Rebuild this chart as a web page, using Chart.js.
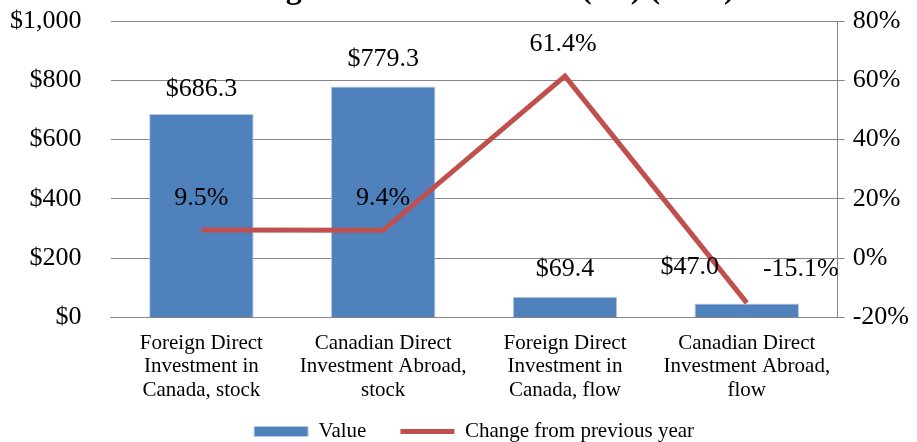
<!DOCTYPE html>
<html>
<head>
<meta charset="utf-8">
<script src="https://cdn.jsdelivr.net/npm/chart.js@4.4.1/dist/chart.umd.min.js"></script>
<style>
  html, body { margin: 0; padding: 0; background: #fff; }
  #wrap { width: 917px; height: 442px; }
</style>
</head>
<body>
<div id="wrap"><canvas id="fdiChart"></canvas></div>
<script>
const categories = [
    ['Foreign Direct', 'Investment in', 'Canada, stock'],
    ['Canadian Direct', 'Investment Abroad,', 'stock'],
    ['Foreign Direct', 'Investment in', 'Canada, flow'],
    ['Canadian Direct', 'Investment Abroad,', 'flow']
];
const values = [686.3, 779.3, 69.4, 47.0];
const changes = [9.5, 9.4, 61.4, -15.1];
const valueRange = [0, 1000, 200];
const changeRange = [-20, 80, 20];

const serif = '"Liberation Serif", "Times New Roman", serif';

// label nudges (dx, dy) from each bar top / line point
const labelShift = {
    0: [[0, -25], [0, -27], [0, -28], [-57, -36]],
    1: [[0, -32], [0, -32], [-2, -32], [54, -34]]
};

const labelPlugin = {
    id: 'valueLabels',
    afterDatasetsDraw(chart) {
        const ctx = chart.ctx;
        ctx.save();
        ctx.font = '26px ' + serif;
        ctx.fillStyle = '#000';
        ctx.textAlign = 'center';
        ctx.textBaseline = 'middle';
        chart.data.datasets.forEach((ds, i) => {
            const meta = chart.getDatasetMeta(i);
            meta.data.forEach((el, j) => {
                const s = labelShift[i][j];
                const v = ds.data[j];
                const txt = i === 0 ? '$' + v.toFixed(1) : v.toFixed(1) + '%';
                ctx.fillText(txt, el.x + s[0], el.y + s[1]);
            });
        });
        ctx.restore();
    }
};

const ctx = document.getElementById('fdiChart').getContext('2d');
new Chart(ctx, {
    type: 'bar',
    data: {
        labels: categories,
        datasets: [
            {
                label: 'Value',
                data: values,
                backgroundColor: '#4F81BD',
                borderColor: '#B9CDE5',
                borderWidth: 1,
                categoryPercentage: 1,
                barPercentage: 0.575,
                yAxisID: 'y',
                order: 1,
                pointStyle: 'rect'
            },
            {
                type: 'line',
                label: 'Change from previous year',
                data: changes,
                borderColor: '#C0504D',
                backgroundColor: '#C0504D',
                borderWidth: 5,
                pointRadius: 0,
                tension: 0,
                yAxisID: 'y1',
                order: 0,
                pointStyle: 'line'
            }
        ]
    },
    options: {
        responsive: true,
        maintainAspectRatio: false,
        animation: false,
        layout: { padding: { left: 10, right: 0, top: -30, bottom: -10 } },
        plugins: {
            title: {
                display: true,
                fullSize: false,
                text: 'Foreign Direct Investment (C$) (2013)',
                color: '#000',
                font: { family: serif, size: 32, weight: 'bold' },
                padding: { top: 0, bottom: 12 }
            },
            legend: {
                position: 'bottom',
                fullSize: false,
                labels: {
                    color: '#000',
                    font: { family: serif, size: 21 },
                    usePointStyle: true,
                    pointStyleWidth: 54,
                    boxHeight: 10,
                    padding: 13,
                    sort: (a, b) => a.datasetIndex - b.datasetIndex,
                    generateLabels(chart) {
                        const items = Chart.defaults.plugins.legend.labels.generateLabels(chart);
                        // wider gap after the first entry
                        items.forEach(it => { if (it.datasetIndex === 0) it.text += '\u2003'; });
                        return items;
                    }
                }
            },
            tooltip: { enabled: false }
        },
        scales: {
            x: {
                grid: { display: false },
                border: { display: true, color: '#868686', width: 1 },
                ticks: {
                    color: '#000',
                    font: { family: serif, size: 21, lineHeight: 1.12 },
                    padding: 6,
                    maxRotation: 0,
                    autoSkip: false
                }
            },
            y: {
                position: 'left',
                min: valueRange[0],
                max: valueRange[1],
                grid: {
                    color: '#868686',
                    lineWidth: 1,
                    drawTicks: true,
                    tickLength: 29,
                    tickColor: 'rgba(0,0,0,0)'
                },
                border: { display: false },
                ticks: {
                    stepSize: valueRange[2],
                    color: '#000',
                    font: { family: serif, size: 26, lineHeight: 1 },
                    padding: 0,
                    callback: v => '$' + v.toLocaleString('en-US')
                }
            },
            y1: {
                position: 'right',
                min: changeRange[0],
                max: changeRange[1],
                grid: { drawOnChartArea: false, color: '#868686', tickLength: 7 },
                border: { display: true, color: '#868686', width: 1 },
                ticks: {
                    stepSize: changeRange[2],
                    color: '#000',
                    font: { family: serif, size: 26, lineHeight: 1 },
                    padding: 8,
                    callback: v => v + '%'
                }
            }
        }
    },
    plugins: [labelPlugin]
});
</script>
</body>
</html>
